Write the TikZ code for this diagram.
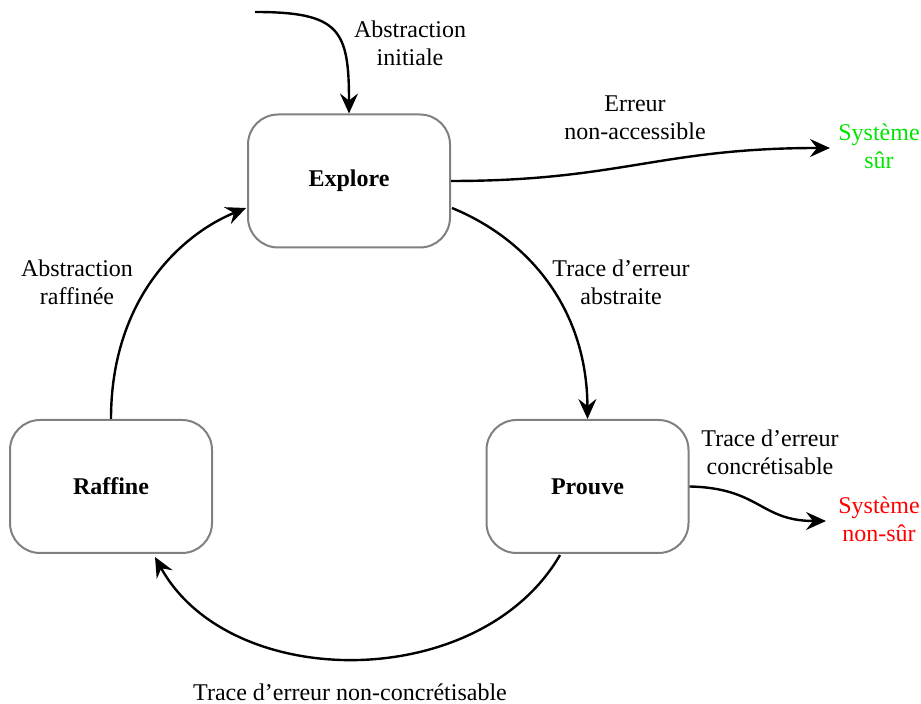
\documentclass[tikz,border=0pt]{standalone}
\usepackage{fontspec}
\setmainfont{Liberation Serif}
\usetikzlibrary{arrows.meta}
\begin{document}
\begin{tikzpicture}[x=0.5pt,y=-0.5pt,
  every node/.style={font=\fontsize{12}{14}\selectfont, align=center, inner sep=0pt},
  state/.style={draw=black!50, line width=1pt, rounded corners=15pt, minimum width=101pt, minimum height=66.5pt, font=\fontsize{12}{14}\selectfont\bfseries},
  link/.style={line width=1.2pt, -{Stealth[length=10pt,width=9pt,inset=3.5pt]}}
]
\useasboundingbox (0,0) rectangle (921,704);
\node[state] (E) at (349,181) {Explore};
\node[state] (P) at (587.5,486.5) {Prouve};
\node[state] (R) at (111,486.5) {Raffine};
\coordinate (S0) at (255,12);
\node[text=green!90!black] (SS) at (879,146) {Système\\sûr};
\node[text=red] (SN) at (879,519) {Système\\non-sûr};

\node (L1) at (410,43.5) {Abstraction\\initiale};
\node (L2) at (635,117.5) {Erreur\\non-accessible};
\node (L3) at (621,282) {Trace d’erreur\\abstraite};
\node (L4) at (770,452) {Trace d’erreur\\concrétisable};
\node (L5) at (350,692) {Trace d’erreur non-concrétisable};
\node (L6) at (77,282) {Abstraction\\raffinée};

\draw[link] (S0) .. controls (340,12) and (349,30) .. (E.north);
\draw[link] (E.east) .. controls (620,181) and (660,148) .. ([xshift=-4pt]SS.west |- 0,148);
\draw[link] (452,208) .. controls (530,240) and (587,310) .. (P.north);
\draw[link] (P.east) .. controls (760,488) and (760,521) .. (826,521);
\draw[link] (560,555) .. controls (480,693) and (230,693) .. (155,557);
\draw[link] (R.north) .. controls (111,300) and (180,235) .. (246,208);
\end{tikzpicture}
\end{document}
